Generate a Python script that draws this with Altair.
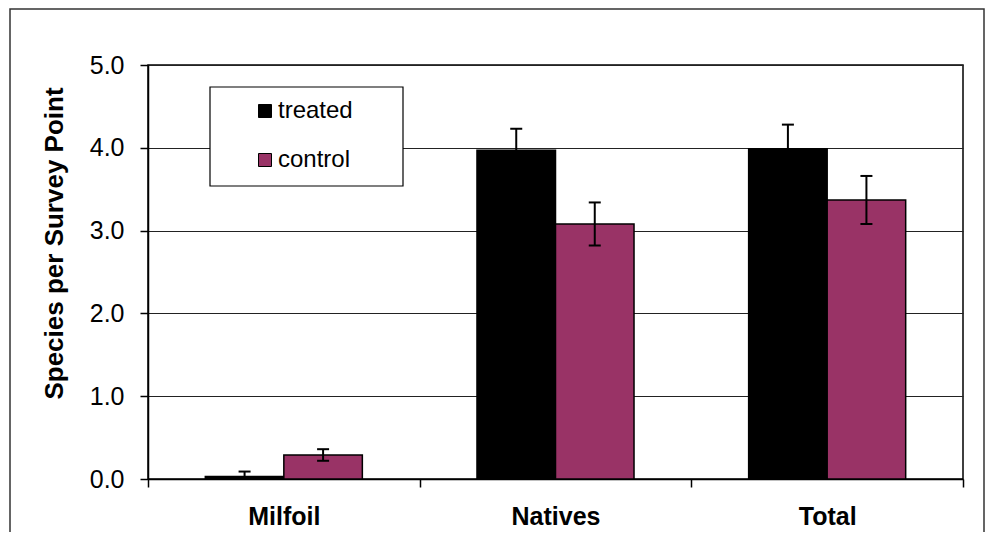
import altair as alt
import pandas as pd

categories = ["Milfoil", "Natives", "Total"]
groups = ["treated", "control"]
treated_mean = [0.03, 3.97, 3.99]
control_mean = [0.29, 3.08, 3.37]
treated_err = [0.06, 0.26, 0.29]
control_err = [0.07, 0.26, 0.29]
colors = ["#000000", "#993366"]

rows = []
for i, c in enumerate(categories):
    for g, m, e in (("treated", treated_mean[i], treated_err[i]),
                    ("control", control_mean[i], control_err[i])):
        rows.append({"category": c, "group": g, "mean": m,
                     "lo": m - e, "hi": m + e})
df = pd.DataFrame(rows)

FONT = "Liberation Sans"

x_enc = alt.X("category:N", sort=categories,
              scale=alt.Scale(paddingInner=0, paddingOuter=0),
              axis=alt.Axis(title=None, labelAngle=0, labelFontSize=25,
                            labelFontWeight="bold", labelColor="black",
                            labelPadding=17, tickBand="extent", tickSize=8,
                            tickColor="black", tickWidth=1.5,
                            domainColor="black", domainWidth=1.5))
xo_enc = alt.XOffset("group:N", sort=groups,
                     scale=alt.Scale(paddingInner=0, paddingOuter=0.73))

base = alt.Chart(df)

frame = alt.Chart(pd.DataFrame({"a": [0]})).mark_rect(
    fillOpacity=0, stroke="#333333", strokeWidth=1.5, clip=False
).encode(x=alt.value(-138), x2=alt.value(836), y=alt.value(-56), y2=alt.value(520))

bars = base.mark_bar(stroke="black", strokeWidth=1.5).encode(
    x=x_enc,
    xOffset=xo_enc,
    y=alt.Y("mean:Q", scale=alt.Scale(domain=[0, 5], nice=False),
            axis=alt.Axis(title="Species per Survey Point", values=[0, 1, 2, 3, 4, 5],
                          format=".1f", labelFontSize=25, labelColor="black",
                          labelPadding=16, tickSize=8, tickColor="black",
                          tickWidth=1.5, domainColor="black", domainWidth=1.5,
                          grid=True, gridColor="#222222", gridWidth=1,
                          titleFontSize=26, titleFontWeight="bold",
                          titleColor="black", titlePadding=22, titleY=178)),
    color=alt.Color("group:N", scale=alt.Scale(domain=groups, range=colors),
                    legend=alt.Legend(title=None, orient="none", legendX=105,
                                      legendY=34, symbolType="square",
                                      symbolSize=169, symbolStrokeColor="black",
                                      symbolStrokeWidth=1, labelFontSize=24,
                                      labelColor="black", labelOffset=1,
                                      rowPadding=25, padding=0,
                                      symbolOpacity=1)),
)

legend_box = alt.Chart(pd.DataFrame({"a": [0]})).mark_rect(
    fill="white", stroke="black", strokeWidth=1.2, clip=False
).encode(x=alt.value(62), x2=alt.value(255), y=alt.value(22), y2=alt.value(121))

err = base.mark_rule(color="black", strokeWidth=2, clip=True).encode(
    x=alt.X("category:N", sort=categories), xOffset=xo_enc,
    y="lo:Q", y2="hi:Q")
cap_hi = base.mark_tick(color="black", thickness=2, size=12, clip=True, opacity=1).encode(
    x=alt.X("category:N", sort=categories), xOffset=xo_enc, y="hi:Q")
cap_lo = base.mark_tick(color="black", thickness=2, size=12, clip=True, opacity=1).encode(
    x=alt.X("category:N", sort=categories), xOffset=xo_enc, y="lo:Q")

chart = alt.layer(frame, bars, err, cap_hi, cap_lo, legend_box).properties(
    width=815, height=414,
    autosize=alt.AutoSizeParams(type="none"),
    padding={"left": 140, "top": 57, "right": 22, "bottom": 53},
    background="white",
).configure(font=FONT).configure_view(stroke="black", strokeWidth=1.5)

chart.save("out.html", embed_options={"renderer": "svg", "actions": False})
